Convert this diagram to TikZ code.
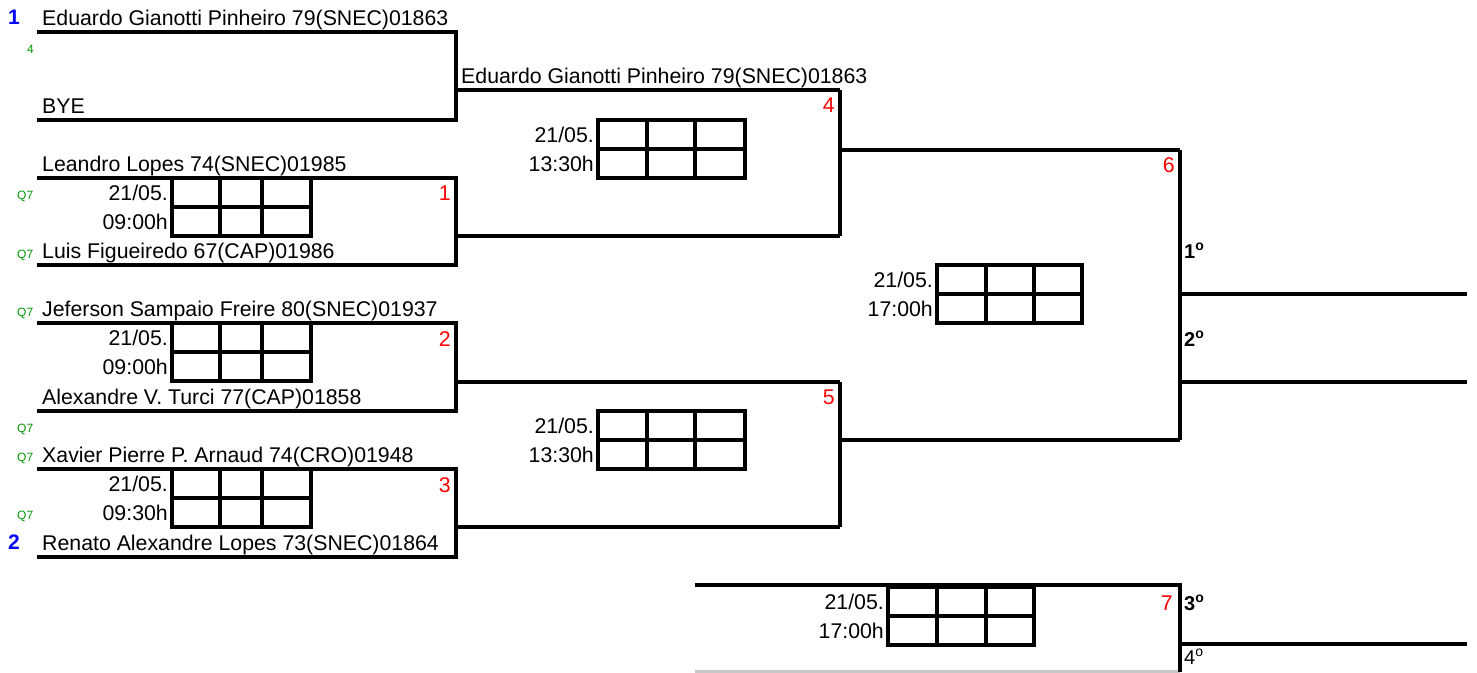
\documentclass[tikz,border=0pt]{standalone}
\usepackage{fontspec}
\setmainfont{Liberation Sans}
\definecolor{seedblue}{RGB}{0,0,255}
\definecolor{qgreen}{RGB}{0,150,0}
\definecolor{mred}{RGB}{255,0,0}
\tikzset{
  ln/.style={line width=3.2pt, line join=miter},
  nm/.style={anchor=base west, inner sep=0pt, font=\fontsize{21.3}{24}\selectfont},
  dt/.style={anchor=base east, inner sep=0pt, font=\fontsize{21.3}{24}\selectfont},
  mnum/.style={anchor=base east, inner sep=0pt, text=mred, font=\fontsize{21.3}{24}\selectfont},
  plc/.style={anchor=base west, inner sep=0pt, font=\fontsize{20}{22}\selectfont\bfseries},
  plcn/.style={anchor=base west, inner sep=0pt, font=\fontsize{20}{22}\selectfont},
  qq/.style={anchor=base west, inner sep=0pt, text=qgreen, font=\fontsize{12}{13}\selectfont},
  seed/.style={anchor=base west, inner sep=0pt, text=seedblue, font=\fontsize{21}{24}\selectfont\bfseries},
}
\newcommand\ordo{\textsuperscript{o}}
% #1 name, #2..#5 column x, #6 top y, #7 time
\newcommand\scoregrid[7]{%
  \draw[ln] (#2,#6) rectangle (#5,#6+58);
  \draw[ln] (#2,#6+29) -- (#5,#6+29);
  \draw[ln] (#3,#6) -- (#3,#6+58);
  \draw[ln] (#4,#6) -- (#4,#6+58);
  \node[dt] (#1d) at (#2-4,#6+22) {21/05.};
  \node[dt] (#1t) at (#2-4,#6+51) {#7};
}
\begin{document}
\begin{tikzpicture}[x=1pt,y=-1pt]
\useasboundingbox (0,0) rectangle (1477,672);

% --- bracket lines ---
% round 1, match BYE
\coordinate (a1) at (37,32);  \coordinate (a2) at (456,32);
\coordinate (a3) at (456,120); \coordinate (a4) at (37,120);
\draw[ln] (a1) -- (a2) -- (a3) -- (a4);
\coordinate (ao) at (456,90); \coordinate (ae) at (840,90);
\draw[ln] (ao) -- (ae);
% match 1
\coordinate (b1) at (37,178);  \coordinate (b2) at (456,178);
\coordinate (b3) at (456,265); \coordinate (b4) at (37,265);
\draw[ln] (b1) -- (b2) -- (b3) -- (b4);
\coordinate (bo) at (456,236); \coordinate (be) at (840,236);
\draw[ln] (bo) -- (be);
% match 2
\coordinate (c1) at (37,323);  \coordinate (c2) at (456,323);
\coordinate (c3) at (456,411); \coordinate (c4) at (37,411);
\draw[ln] (c1) -- (c2) -- (c3) -- (c4);
\coordinate (co) at (456,382); \coordinate (ce) at (840,382);
\draw[ln] (co) -- (ce);
% match 3
\coordinate (d1) at (37,469);  \coordinate (d2) at (456,469);
\coordinate (d3) at (456,557); \coordinate (d4) at (37,557);
\draw[ln] (d1) -- (d2) -- (d3) -- (d4);
\coordinate (do) at (456,527); \coordinate (de) at (840,527);
\draw[ln] (do) -- (de);
% match 4
\draw[ln] (ae) -- (be);
\coordinate (fo) at (840,150); \coordinate (fe) at (1180,150);
\draw[ln] (fo) -- (fe);
% match 5
\draw[ln] (ce) -- (de);
\coordinate (go) at (840,440); \coordinate (ge) at (1180,440);
\draw[ln] (go) -- (ge);
% match 6 (final)
\draw[ln] (fe) -- (ge);
\coordinate (h1) at (1180,294); \coordinate (h1e) at (1467,294);
\coordinate (h2) at (1180,382); \coordinate (h2e) at (1467,382);
\draw[ln] (h1) -- (h1e);
\draw[ln] (h2) -- (h2e);
% match 7 (3rd place)
\coordinate (k5) at (695,672); \coordinate (k6) at (1180,672);
\draw[ln, draw=black!22] (k5) -- (k6);
\coordinate (k1) at (695,585); \coordinate (k2) at (1180,585);
\coordinate (k3) at (1180,672);
\draw[ln] (k1) -- (k2) -- (k3);
\coordinate (k4) at (1180,644); \coordinate (k4e) at (1467,644);
\draw[ln] (k4) -- (k4e);

% --- score grids ---
\scoregrid{s1}{172}{220}{262}{311}{178}{09:00h}
\scoregrid{s2}{172}{220}{262}{311}{323}{09:00h}
\scoregrid{s3}{172}{220}{262}{311}{469}{09:30h}
\scoregrid{s4}{598}{647}{695}{745}{120}{13:30h}
\scoregrid{s5}{598}{647}{695}{745}{411}{13:30h}
\scoregrid{s6}{937}{986}{1034}{1082}{265}{17:00h}
\scoregrid{s7}{888}{937}{986}{1034}{587}{17:00h}

% --- names ---
\node[nm] (p1) at (42,25)  {Eduardo Gianotti Pinheiro 79(SNEC)01863};
\node[nm] (p2) at (42,113) {BYE};
\node[nm] (p3) at (42,171) {Leandro Lopes 74(SNEC)01985};
\node[nm] (p4) at (42,258) {Luis Figueiredo 67(CAP)01986};
\node[nm] (p5) at (42,316) {Jeferson Sampaio Freire 80(SNEC)01937};
\node[nm] (p6) at (42,404) {Alexandre V. Turci 77(CAP)01858};
\node[nm] (p7) at (42,462) {Xavier Pierre P. Arnaud 74(CRO)01948};
\node[nm] (p8) at (42,550) {Renato Alexandre Lopes 73(SNEC)01864};
\node[nm] (w4) at (461,83) {Eduardo Gianotti Pinheiro 79(SNEC)01863};

% --- seeds and qualifiers ---
\node[seed] (sd1) at (8,24)  {1};
\node[seed] (sd2) at (8,549) {2};
\node[qq] (g4) at (27,53) {4};
\node[qq] (q1) at (17,199) {Q7};
\node[qq] (q2) at (17,258) {Q7};
\node[qq] (q3) at (17,316) {Q7};
\node[qq] (q4) at (17,432) {Q7};
\node[qq] (q5) at (17,461) {Q7};
\node[qq] (q6) at (17,519) {Q7};

% --- match numbers ---
\node[mnum] (m1) at (451,200) {1};
\node[mnum] (m2) at (451,346) {2};
\node[mnum] (m3) at (451,492) {3};
\node[mnum] (m4) at (835,112) {4};
\node[mnum] (m5) at (835,404) {5};
\node[mnum] (m6) at (1175,172) {6};
\node[mnum] (m7) at (1173,610) {7};

% --- places ---
\node[plc]  (pl1) at (1184,258) {1\ordo};
\node[plc]  (pl2) at (1184,346) {2\ordo};
\node[plc]  (pl3) at (1184,610) {3\ordo};
\node[plcn] (pl4) at (1184,664) {4\ordo};
\end{tikzpicture}
\end{document}
